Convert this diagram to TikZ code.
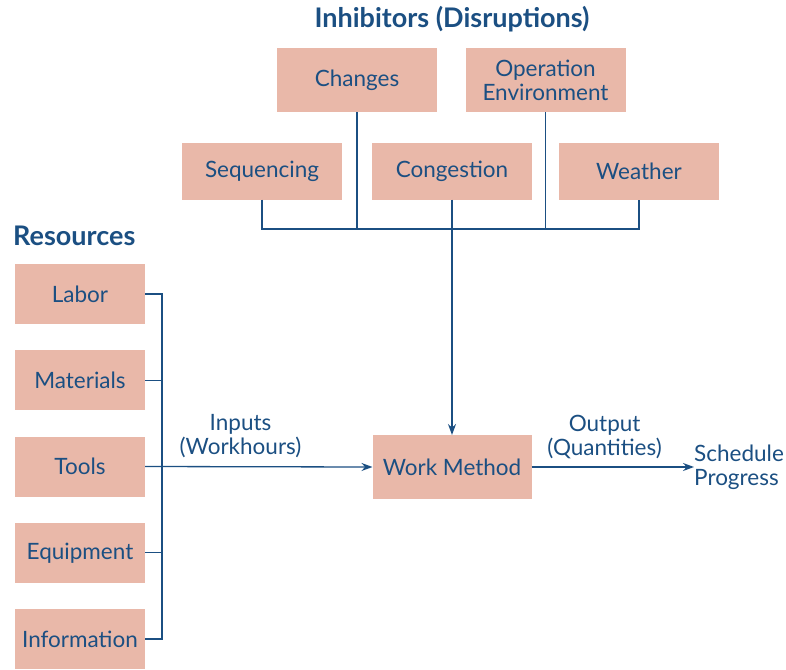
\documentclass[tikz,border=0pt]{standalone}
\usepackage{fontspec}
\setmainfont{Lato}
\usetikzlibrary{arrows.meta,positioning,calc}
\definecolor{boxpink}{HTML}{E9B8A9}
\definecolor{ink}{HTML}{1B4F82}

\begin{document}
\begin{tikzpicture}[x=1pt,y=-1pt,font=\fontsize{22.5}{24}\selectfont,
  box/.style={fill=boxpink,text=ink,minimum width=160pt,minimum height=57pt,inner sep=0pt,outer sep=0pt,align=center},
  resbox/.style={box,minimum width=130pt,minimum height=60pt},
  link/.style={draw=ink,line width=1.3pt},
  arr/.style={link,-{Stealth[length=11pt,width=8pt]}},
  lbl/.style={text=ink,align=center,inner sep=0pt},
  head/.style={lbl,font=\fontsize{27}{30}\selectfont\bfseries}]
\useasboundingbox (0,0) rectangle (786,669);

% inhibitors
\node[box] (seq) at (262,171) {Sequencing};
\node[box,right=30pt of seq] (cong) {Congestion};
\node[box,right=27pt of cong] (wea) {Weather};
\node[box,minimum height=64pt] (chg) at ($(seq)!.5!(cong)+(0,-91)$) {Changes};
\node[box,minimum height=64pt] (env) at ($(cong)!.5!(wea)+(0,-91)$) {Operation\\Environment};
\node[head] (inh) at (cong |- 0,19) {Inhibitors (Disruptions)};

\coordinate (bus) at (0,229);
\draw[link] (seq.south) -- (seq.south |- bus) -| (wea.south);
\draw[link] (chg.south) -- (chg.south |- bus);
\draw[link] (env.south) -- (env.south |- bus);

\node[box,minimum width=159pt,minimum height=64pt] (wm) at (cong |- 0,467) {Work Method};
\draw[arr] (cong.south) -- (wm.north);

% resources
\node[head,anchor=west] (res) at (13,236) {Resources};
\foreach \t [count=\i] in {Labor,Materials,Tools,Equipment,Information}
  \node[resbox] (r\i) at (80,{294+86.25*(\i-1)}) {\t};
\draw[link] (r1.east) -- ++(17,0) coordinate (rb) |- (r5.east);
\foreach \i in {2,3,4}
  \draw[link] (r\i.east) -- (rb |- r\i.east);

% inputs / outputs
\node[lbl,anchor=west,align=left] (sp) at (694,467) {Schedule\\Progress};
\draw[arr] (r3.east) -- (wm.west) node[lbl,pos=.42,above=8pt] {Inputs\\(Workhours)};
\draw[arr] (wm.east) -- (sp.west) node[lbl,pos=.45,above=8pt] {Output\\(Quantities)};
\end{tikzpicture}
\end{document}
